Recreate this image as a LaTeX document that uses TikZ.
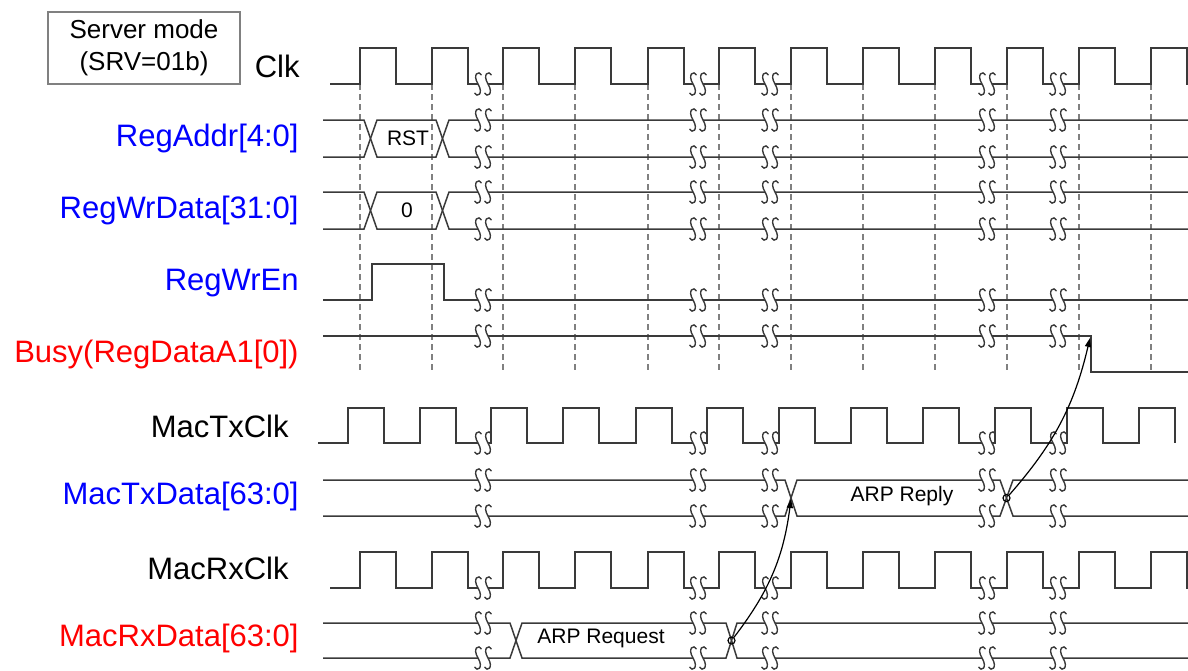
\documentclass[tikz,border=0pt]{standalone}
\usepackage{fontspec}
\setmainfont{Liberation Sans}
\usetikzlibrary{arrows.meta,positioning}
\definecolor{Wave}{HTML}{3A3A3A}
\definecolor{Grid}{HTML}{808080}
\definecolor{SigBlue}{HTML}{0000FF}
\definecolor{SigRed}{HTML}{FF0000}
\newcommand{\ClkEdges}{360,432,503,575,648,719,791,863,935,1007,1079,1151}
\newcommand{\BrkMark}[2]{%
  \fill[white] ({#1-5},{#2-2}) rectangle ({#1+5},{#2+2});%
  \foreach \d in {-5,5} {%
    \draw[Wave,line width=0.7pt] ({#1+\d+3.5},{#2-9}) .. controls ({#1+\d+1},{#2-14}) and ({#1+\d-6},{#2-10}) .. ({#1+\d},{#2})
      .. controls ({#1+\d+6},{#2+10}) and ({#1+\d-1},{#2+14}) .. ({#1+\d-3.5},{#2+9});%
  }%
}
\newcommand{\SigName}[5]{%
  \node[anchor=east,inner sep=0pt,font=\fontsize{15.5}{18}\selectfont,text=#4] (#1) at (#2,#3) {#5};%
}

\begin{document}
\begin{tikzpicture}[x=0.5pt,y=-0.5pt,
  wave/.style={Wave,line width=0.75pt,line join=miter},
  gridline/.style={Grid,line width=0.75pt,dash pattern=on 3pt off 2pt},
  datatext/.style={font=\fontsize{10.5}{12}\selectfont,inner sep=1pt},
  hop/.style={->,>={Triangle[length=4.5pt,width=3pt]},black,line width=0.6pt,shorten >=0pt}]
\useasboundingbox (0,0) rectangle (1188,670);
\node[draw=Grid,line width=0.7pt,minimum width=96pt,minimum height=36pt,align=center,
  font=\fontsize{13}{16}\selectfont] (mode) at (144,48) {Server mode\\(SRV=01b)};
\SigName{clk}{300}{66}{black}{Clk}
\SigName{addr}{299}{138}{SigBlue}{RegAddr[4:0]}
\SigName{wrdata}{299}{210}{SigBlue}{RegWrData[31:0]}
\SigName{wren}{299}{283}{SigBlue}{RegWrEn}
\SigName{busy}{299}{354}{SigRed}{Busy(RegDataA1[0])}
\SigName{txclk}{289}{426}{black}{MacTxClk}
\SigName{txdata}{299}{496}{SigBlue}{MacTxData[63:0]}
\SigName{rxclk}{289}{568}{black}{MacRxClk}
\SigName{rxdata}{299}{638}{SigRed}{MacRxData[63:0]}
% clock grid
\foreach \e in \ClkEdges {
  \draw[gridline] (\e,84) -- (\e,372);
}
% clocks
\draw[wave] (330,84) foreach \e in \ClkEdges { -- (\e,84) -- (\e,48) -- ({\e+36},48) -- ({\e+36},84) } -- (1188,84);
\draw[wave] (318,443) foreach \e in \ClkEdges { -- ({\e-12},443) -- ({\e-12},408) -- ({\e+24},408) -- ({\e+24},443) };
\draw[wave] (330,588) foreach \e in \ClkEdges { -- (\e,588) -- (\e,552) -- ({\e+36},552) -- ({\e+36},588) } -- (1188,588);
% register bus
\draw[wave] (323,120) -- (364,120) -- (377,157) -- (436,157) -- (449,120) -- (1188,120);
\draw[wave] (323,157) -- (364,157) -- (377,120) -- (436,120) -- (449,157) -- (1188,157);
\draw[wave] (323,192) -- (364,192) -- (377,229) -- (436,229) -- (449,192) -- (1188,192);
\draw[wave] (323,229) -- (364,229) -- (377,192) -- (436,192) -- (449,229) -- (1188,229);
\node[datatext] (rst) at (408,138) {RST};
\node[datatext] (zero) at (407,210) {0};
\draw[wave] (323,300) -- (372,300) -- (372,264) -- (444,264) -- (444,300) -- (1188,300);
\draw[wave] (323,336) -- (1091,336) -- (1091,372) -- (1188,372);
% mac bus
\draw[wave] (323,480) -- (785,480) -- (797,516) -- (1000,516) -- (1013,480) -- (1188,480);
\draw[wave] (323,516) -- (785,516) -- (797,480) -- (1000,480) -- (1013,516) -- (1188,516);
\draw[wave] (323,623) -- (510,623) -- (522,658) -- (726,658) -- (737,623) -- (1188,623);
\draw[wave] (323,658) -- (510,658) -- (522,623) -- (726,623) -- (737,658) -- (1188,658);
\node[datatext] (arpreq) at (601,638) {ARP Request};
\node[datatext] (arprep) at (902,496) {ARP Reply};
% breaks
\foreach \y in {84,120,157,192,229,300,336,443,480,516,588,623,658} {
  \foreach \x in {483,698,770,987,1058} {
    \BrkMark{\x}{\y}
  }
}
% causality
\node[draw=black,circle,inner sep=0pt,minimum size=3.5pt,line width=0.6pt] (reqDot) at (731.5,640.5) {};
\node[draw=black,circle,inner sep=0pt,minimum size=3.5pt,line width=0.6pt] (repDot) at (1006.5,498) {};
\coordinate (repStart) at (791,499);
\coordinate (busyFall) at (1090,338);
\draw[hop] (reqDot) to[bend right=15] (repStart);
\draw[hop] (repDot) to[bend right=14] (busyFall);
\end{tikzpicture}
\end{document}
